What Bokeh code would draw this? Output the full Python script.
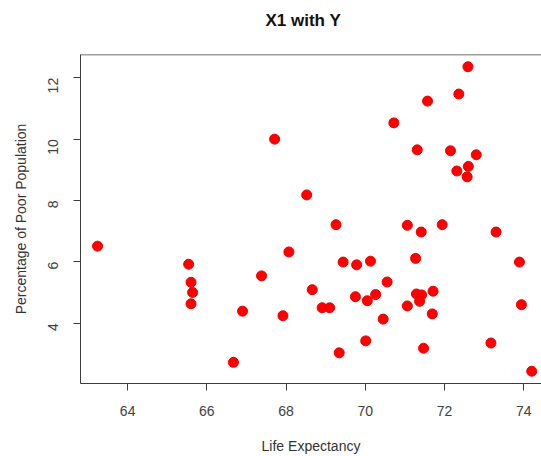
from bokeh.plotting import figure
from bokeh.models import FixedTicker, Span, Range1d, Title
from bokeh.embed import file_html
from bokeh.resources import INLINE
import math

# Data
life_expectancy = [
    67.71, 63.24,
    72.59, 72.36, 71.57, 70.72, 71.31, 72.15, 72.80, 72.60, 72.31, 72.57,
    68.52, 69.26, 71.06, 71.41, 71.94, 73.30,
    65.54, 65.60, 65.64, 65.60, 67.38, 68.07, 66.90, 67.92, 66.67,
    69.44, 69.78, 70.13, 71.27, 73.89, 68.66, 70.55, 69.75, 70.05, 70.26,
    71.29, 71.42, 71.37, 71.71, 68.91, 69.10, 71.06, 71.69, 73.94, 70.45,
    70.01, 73.17, 69.34, 71.47, 74.20,
]
poor_pct = [
    10.00, 6.51,
    12.36, 11.47, 11.24, 10.53, 9.65, 9.62, 9.49, 9.11, 8.96, 8.77,
    8.18, 7.21, 7.19, 6.97, 7.21, 6.97,
    5.92, 5.33, 5.00, 4.63, 5.54, 6.32, 4.39, 4.24, 2.72,
    5.99, 5.90, 6.02, 6.11, 5.99, 5.09, 5.34, 4.86, 4.73, 4.93,
    4.95, 4.92, 4.71, 5.04, 4.50, 4.50, 4.56, 4.30, 4.60, 4.13,
    3.42, 3.35, 3.03, 3.18, 2.43,
]
x_ticks = [64, 66, 68, 70, 72, 74]
y_ticks = [4, 6, 8, 10, 12]

title_text = "X1 with Y"
x_label = "Life Expectancy"
y_label = "Percentage of Poor Population"

FONT = "Liberation Sans"
AX = "#3c3c3c"

x0, x1 = 62.81, 74.447
y0, y1 = 2.03, 12.76

p = figure(
    width=541, height=456,
    output_backend="svg", toolbar_location=None,
    x_range=Range1d(x0, x1), y_range=Range1d(y0, y1),
    min_border_left=80, min_border_right=0,
    min_border_top=54, min_border_bottom=72,
    title=None,
)
p.outline_line_color = None
p.background_fill_color = "white"
p.border_fill_color = "white"
p.xgrid.visible = False
p.ygrid.visible = False

# spacer between the title and the plot box, then the title itself
p.add_layout(Title(text=" ", text_font=FONT, text_font_size="17px", standoff=4), "above")
p.add_layout(Title(text=title_text, align="left", offset=185, standoff=0,
                   text_font=FONT, text_font_size="17px", text_font_style="bold",
                   text_color="#111111"), "above")

p.xaxis.ticker = FixedTicker(ticks=x_ticks)
p.yaxis.ticker = FixedTicker(ticks=y_ticks)
p.xaxis.minor_tick_line_color = None
p.yaxis.minor_tick_line_color = None

for ax in (p.xaxis, p.yaxis):
    ax.axis_line_color = AX
    ax.axis_line_width = 1
    ax.major_tick_line_color = AX
    ax.major_tick_in = 0
    ax.major_tick_out = 7
    ax.major_label_text_font = FONT
    ax.major_label_text_font_size = "14px"
    ax.major_label_text_color = "#404040"
    ax.axis_label_text_font = FONT
    ax.axis_label_text_font_size = "14px"
    ax.axis_label_text_font_style = "normal"
    ax.axis_label_text_color = "#333333"

p.xaxis.axis_label = x_label
p.yaxis.axis_label = y_label
p.xaxis.major_label_standoff = 15
p.xaxis.axis_label_standoff = 19
p.yaxis.major_label_orientation = math.pi / 2
p.yaxis.major_label_standoff = 20
p.yaxis.axis_label_standoff = 12

# top border of the box (right edge lies outside the window in the reference)
p.add_layout(Span(location=y1, dimension="width", line_color=AX, line_width=1.5))

p.scatter(life_expectancy, poor_pct, size=10, marker="circle",
          fill_color="#ff0000", line_color="#ee0000", line_width=1)

open("out.html", "w").write(file_html(p, INLINE))
